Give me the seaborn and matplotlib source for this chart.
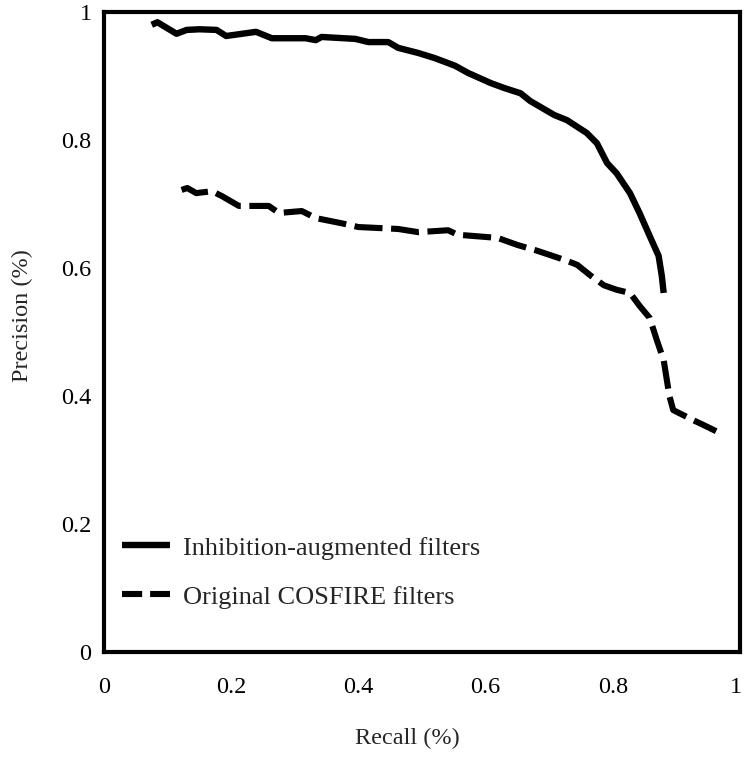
import matplotlib
matplotlib.use("Agg")
import matplotlib.pyplot as plt
import matplotlib.transforms as mtransforms
import seaborn as sns

# ── Data ───────────────────────────────────────────────────────────────────────
inhib_recall = [0.075, 0.084, 0.114, 0.130, 0.150, 0.177, 0.192, 0.239, 0.264,
                0.317, 0.333, 0.342, 0.395, 0.416, 0.447, 0.4625, 0.494, 0.520,
                0.552, 0.572, 0.608, 0.630, 0.655, 0.670, 0.708, 0.728, 0.759,
                0.775, 0.791, 0.806, 0.827, 0.842, 0.858, 0.872, 0.877, 0.880]
inhib_precision = [0.980, 0.984, 0.966, 0.972, 0.973, 0.972, 0.9625, 0.969, 0.959,
                   0.959, 0.956, 0.961, 0.958, 0.953, 0.953, 0.944, 0.936, 0.928,
                   0.916, 0.905, 0.889, 0.881, 0.873, 0.861, 0.839, 0.831, 0.811,
                   0.795, 0.764, 0.748, 0.717, 0.686, 0.650, 0.619, 0.588, 0.561]

orig_recall = [0.122, 0.131, 0.145, 0.170, 0.186, 0.212, 0.259, 0.275, 0.311,
               0.333, 0.373, 0.400, 0.4625, 0.494, 0.541, 0.556, 0.619, 0.650,
               0.681, 0.723, 0.744, 0.764, 0.786, 0.806, 0.827, 0.842, 0.858,
               0.869, 0.880, 0.884, 0.889, 0.895, 0.905, 0.927, 0.942, 0.9625]
orig_precision = [0.722, 0.725, 0.717, 0.720, 0.712, 0.697, 0.697, 0.686, 0.689,
                  0.678, 0.670, 0.664, 0.661, 0.656, 0.659, 0.652, 0.647, 0.636,
                  0.627, 0.613, 0.605, 0.589, 0.573, 0.566, 0.561, 0.541, 0.522,
                  0.488, 0.456, 0.431, 0.400, 0.378, 0.373, 0.362, 0.355, 0.345]

TICKS = [0, 0.2, 0.4, 0.6, 0.8, 1.0]
TICK_LABELS = ["0", "0.2", "0.4", "0.6", "0.8", "1"]
SERIES_NAMES = ["Inhibition-augmented filters", "Original COSFIRE filters"]

# ── Style ──────────────────────────────────────────────────────────────────────
sns.set_style("white")
plt.rcParams["font.family"] = ["Liberation Serif", "DejaVu Serif"]
plt.rcParams["font.size"] = 17.5

fig = plt.figure(figsize=(7.44, 7.57), dpi=100)
ax = fig.add_axes([104 / 744, 105 / 757, 636 / 744, 640 / 757])

sns.lineplot(x=inhib_recall, y=inhib_precision, ax=ax, sort=False,
             estimator=None, color="black", lw=4.6, label=SERIES_NAMES[0])
sns.lineplot(x=orig_recall, y=orig_precision, ax=ax, sort=False,
             estimator=None, color="black", lw=4.4, label=SERIES_NAMES[1])
ax.lines[1].set_dashes([4.6, 1.4])
for ln in ax.lines:
    ln.set_solid_capstyle("butt")
    ln.set_dash_capstyle("butt")
    ln.set_solid_joinstyle("round")
    ln.set_dash_joinstyle("round")

ax.set_xlim(0, 1)
ax.set_ylim(0, 1)
ax.set_xticks(TICKS)
ax.set_xticklabels(TICK_LABELS)
ax.set_yticks(TICKS)
ax.set_yticklabels(TICK_LABELS)
ax.tick_params(axis="both", direction="in", length=12, width=3, color="black",
               labelsize=17.5, labelcolor="black")
ax.tick_params(axis="x", pad=18)
ax.tick_params(axis="y", pad=9)

# last x label sits on the figure edge: nudge it a few pixels inside
last = ax.get_xticklabels()[-1]
last.set_transform(last.get_transform() + mtransforms.ScaledTranslation(-4 / 100, 0, fig.dpi_scale_trans))

for sp in ax.spines.values():
    sp.set_visible(True)
    sp.set_linewidth(3)
    sp.set_color("black")

ax.set_xlabel("Recall (%)", fontsize=17.5)
ax.set_ylabel("Precision (%)", fontsize=17.5)
ax.xaxis.set_label_coords(0.477, -0.118)
ax.yaxis.set_label_coords(-0.112, 0.525)

leg = ax.legend(loc="upper left", bbox_to_anchor=(0.028, 0.181), frameon=False,
                borderaxespad=0, borderpad=0, handlelength=1.82,
                handletextpad=0.49, labelspacing=0.97, fontsize=19)
leg.get_lines()[1].set_dashes([3.3, 1.3])

plt.savefig("out.png", dpi=100)
plt.close()
